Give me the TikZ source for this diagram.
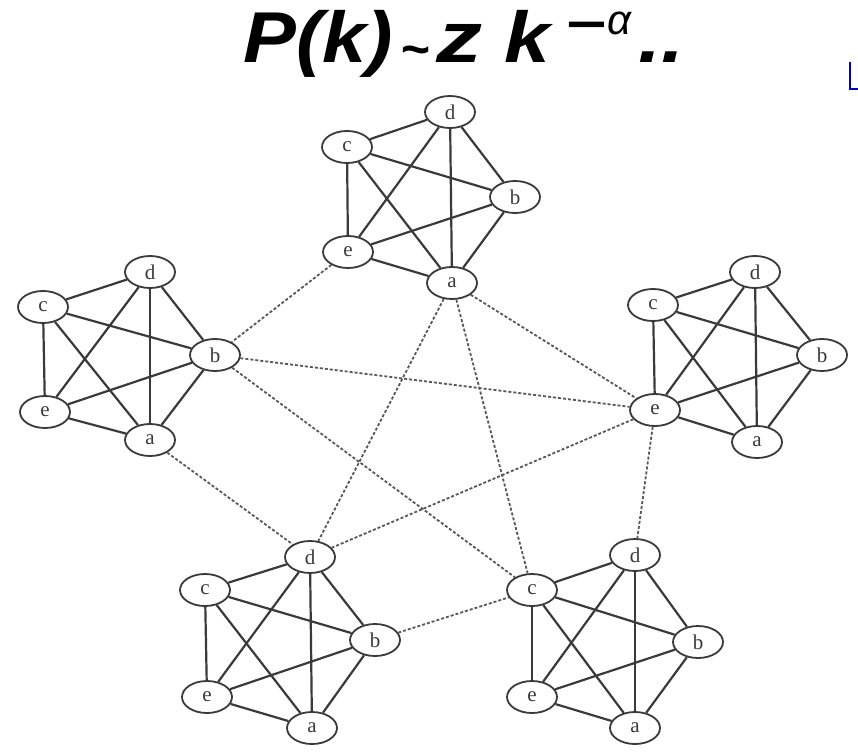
\documentclass[tikz,border=0pt]{standalone}
\usepackage{fontspec}
\newfontfamily\titlefont{Liberation Sans}
\newfontfamily\vtxfont{Liberation Serif}
\usetikzlibrary{shapes.geometric}
\definecolor{ink}{HTML}{3A3A3A}
\tikzset{
  vtx/.style={ellipse, draw=ink, fill=white, line width=1.8pt, minimum width=50pt, minimum height=32pt, inner sep=0pt, text=ink, font=\vtxfont\fontsize{21}{21}\selectfont},
  solidedge/.style={draw=ink, line width=2.2pt},
  linkedge/.style={draw=ink!85, line width=1.8pt, dash pattern=on 3pt off 2pt},
  ttl/.style={inner sep=0pt, anchor=base west}
}
\newcommand\bigt[2][1.14]{\titlefont\bfseries\itshape\fontsize{72}{72}\selectfont\scalebox{#1}[1]{#2}}
\begin{document}
\begin{tikzpicture}[x=1pt,y=-1pt]
\useasboundingbox (0,0) rectangle (858,754);
% title
\node[ttl] (t1) at (243,63) {\bigt[1.1]{P(k)}};
\node[ttl, font=\titlefont\bfseries\itshape\fontsize{50}{50}\selectfont] (t2) at (400,63) {\raisebox{-4pt}{\textasciitilde}};
\node[ttl] (t3) at (436,63) {\bigt[1.28]{z}};
\node[ttl] (t4) at (504,63) {\bigt{k}};
\node[ttl, font=\titlefont\bfseries\fontsize{50}{50}\selectfont] (t5) at (566,42) {\scalebox{1.4}[1]{\char"2212}};
\node[ttl, font=\titlefont\itshape\fontsize{42}{42}\selectfont] (t6) at (607,35) {α};
\node[ttl] (t7) at (638,63) {\bigt{..}};
% top cluster
\node[vtx] (T-d) at (450,112) {d};
\node[vtx] (T-c) at (347,147) {c};
\node[vtx] (T-b) at (515,197) {b};
\node[vtx] (T-e) at (348,252) {e};
\node[vtx] (T-a) at (452,283) {a};
% left cluster
\node[vtx] (L-d) at (150,272) {d};
\node[vtx] (L-c) at (43,307) {c};
\node[vtx] (L-b) at (215,355) {b};
\node[vtx] (L-e) at (45,412) {e};
\node[vtx] (L-a) at (150,440) {a};
% right cluster
\node[vtx] (R-d) at (755,272) {d};
\node[vtx] (R-c) at (653,305) {c};
\node[vtx] (R-b) at (822,355) {b};
\node[vtx] (R-e) at (655,410) {e};
\node[vtx] (R-a) at (757,442) {a};
% bottom-left cluster
\node[vtx] (P-d) at (310,557) {d};
\node[vtx] (P-c) at (205,590) {c};
\node[vtx] (P-b) at (375,640) {b};
\node[vtx] (P-e) at (207,697) {e};
\node[vtx] (P-a) at (312,728) {a};
% bottom-right cluster
\node[vtx] (Q-d) at (635,555) {d};
\node[vtx] (Q-c) at (532,590) {c};
\node[vtx] (Q-b) at (698,642) {b};
\node[vtx] (Q-e) at (532,697) {e};
\node[vtx] (Q-a) at (635,728) {a};
% intra-cluster edges
\foreach \k in {T,L,R,P,Q}{
  \foreach \u/\v in {c/d,d/b,b/a,a/e,e/c,c/b,c/a,d/e,d/a,e/b}{
    \draw[solidedge] (\k-\u) -- (\k-\v);
  }
}
% inter-cluster links
\foreach \u/\v in {T-e/L-b, T-a/R-e, T-a/P-d, T-a/Q-c, L-b/R-e, L-b/Q-c, L-a/P-d, R-e/P-d, R-e/Q-d, P-b/Q-c}{
  \draw[linkedge] (\u) -- (\v);
}
% blue fragment at right edge
\coordinate (f1) at (850,62);
\coordinate (f2) at (850,89);
\coordinate (f3) at (858,89);
\draw[blue!75!black, line width=2.5pt] (f1) -- (f2) -- (f3);
\end{tikzpicture}
\end{document}
